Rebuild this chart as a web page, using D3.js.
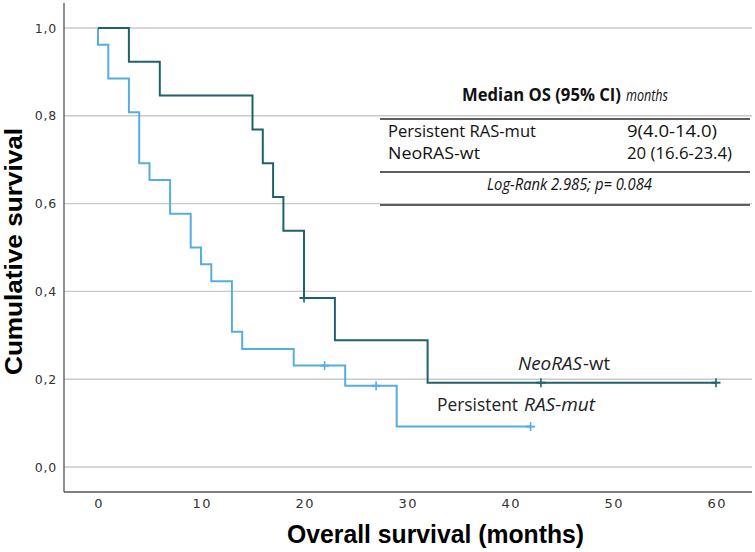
<!DOCTYPE html>
<html>
<head>
<meta charset="utf-8">
<script src="https://cdn.jsdelivr.net/npm/d3@7"></script>
<style>
  html, body { margin: 0; padding: 0; background: #fff; }
  svg { display: block; }
</style>
</head>
<body>
<svg id="chart" width="755" height="552"></svg>
<script>
// ---- Data ----
const neoTimes  = [0, 3, 6, 15, 16, 17, 18, 20, 23, 32, 60];
const neoSurv   = [1.0, 0.923, 0.846, 0.769, 0.692, 0.615, 0.538, 0.385, 0.289, 0.192, 0.192];
const neoCensorTimes = [20, 43, 60];
const neoCensorSurv  = [0.385, 0.192, 0.192];

const persTimes = [0, 0, 1, 3, 4, 5, 7, 9, 10, 11, 13, 14, 19, 24, 29, 42];
const persSurv  = [1.0, 0.962, 0.885, 0.808, 0.692, 0.654, 0.577, 0.5, 0.462, 0.423, 0.308, 0.269, 0.231, 0.185, 0.092, 0.092];
const persCensorTimes = [22, 27, 42];
const persCensorSurv  = [0.231, 0.185, 0.092];

const xTicks = [0, 10, 20, 30, 40, 50, 60];
const yTicks = [0, 0.2, 0.4, 0.6, 0.8, 1.0];

const tableTitle = ["Median OS (95% CI)", "months"];
const tableGroups = ["Persistent RAS-mut", "NeoRAS-wt"];
const tableValues = ["9(4.0-14.0)", "20 (16.6-23.4)"];
const logRankText = "Log-Rank 2.985; p= 0.084";

const colNeo = "#1f6369";
const colPers = "#55ade0";

// ---- Scales ----
const svg = d3.select("#chart");
const x = d3.scaleLinear().domain([0, 60]).range([98, 716]);
const y = d3.scaleLinear().domain([0, 1]).range([467, 28]);
const plotLeft = 64, plotRight = 752, plotBottom = 492, plotTop = 3;

// gridlines
svg.append("g").selectAll("line").data(yTicks).join("line")
  .attr("x1", plotLeft).attr("x2", plotRight)
  .attr("y1", d => y(d)).attr("y2", d => y(d))
  .attr("stroke", "#c9c9c9").attr("stroke-width", 1.4);

// axes lines
svg.append("line").attr("x1", plotLeft).attr("x2", plotLeft).attr("y1", plotTop).attr("y2", plotBottom)
  .attr("stroke", "#555").attr("stroke-width", 1.3);
svg.append("line").attr("x1", plotLeft).attr("x2", plotRight).attr("y1", plotBottom).attr("y2", plotBottom)
  .attr("stroke", "#555").attr("stroke-width", 1.3);

// y tick labels
const fmt = d => d3.format(".1f")(d).replace(".", ",");
const yAxis = d3.axisLeft(y).tickValues(yTicks).tickFormat(fmt).tickSize(0).tickPadding(0);
const gy = svg.append("g").attr("transform", `translate(57,0)`).call(yAxis);
gy.select(".domain").remove();
gy.selectAll("text").attr("font-family", "DejaVu Sans").attr("font-size", 12.5)
  .attr("fill", "#333").attr("letter-spacing", 0.8);

// x tick labels
const xAxis = d3.axisBottom(x).tickValues(xTicks).tickFormat(d3.format("d")).tickSize(0).tickPadding(0);
const gx = svg.append("g").attr("transform", `translate(0,${plotBottom + 7})`).call(xAxis);
gx.select(".domain").remove();
gx.selectAll("text").attr("font-family", "DejaVu Sans").attr("font-size", 13)
  .attr("fill", "#333").attr("letter-spacing", 1.5).attr("dx", 0.75);

// curves
const line = d3.line().x(d => x(d[0])).y(d => y(d[1])).curve(d3.curveStepAfter);
const persPts = persTimes.map((t, i) => [t, persSurv[i]]);
const neoPts = neoTimes.map((t, i) => [t, neoSurv[i]]);

svg.append("path").attr("d", line(persPts)).attr("fill", "none")
  .attr("stroke", colPers).attr("stroke-width", 2);
svg.append("path").attr("d", line(neoPts)).attr("fill", "none")
  .attr("stroke", colNeo).attr("stroke-width", 2);

function censor(times, surv, col) {
  const g = svg.append("g");
  const pts = times.map((t, i) => [t, surv[i]]);
  g.selectAll(".v").data(pts).join("line")
    .attr("x1", d => x(d[0])).attr("x2", d => x(d[0]))
    .attr("y1", d => y(d[1]) - 4.5).attr("y2", d => y(d[1]) + 4.5)
    .attr("stroke", col).attr("stroke-width", 1.6);
  g.selectAll(".h").data(pts).join("line")
    .attr("x1", d => x(d[0]) - 4.5).attr("x2", d => x(d[0]) + 4.5)
    .attr("y1", d => y(d[1])).attr("y2", d => y(d[1]))
    .attr("stroke", col).attr("stroke-width", 2);
}
censor(persCensorTimes, persCensorSurv, colPers);
censor(neoCensorTimes, neoCensorSurv, colNeo);

// helper for fitted text pieces
const lblFont = "Open Sans";
function piece(parent, str, xx, yy, w, fs, opts = {}) {
  const t = parent.append("text").attr("x", xx).attr("y", yy)
    .attr("font-family", lblFont).attr("font-size", fs).attr("fill", opts.fill || "#111")
    .attr("textLength", w).attr("lengthAdjust", "spacingAndGlyphs").text(str);
  if (opts.italic) t.attr("font-style", "italic");
  if (opts.bold) t.attr("font-weight", "bold");
  return t;
}

// curve labels
piece(svg, "NeoRAS", 518, 370, 64, 19, { italic: true, fill: "#222" });
piece(svg, "-wt", 583, 370, 27, 19, { fill: "#222" });
piece(svg, "Persistent", 437, 411, 81, 19, { fill: "#222" });
piece(svg, "RAS-mut", 524, 411, 71, 19, { italic: true, fill: "#222" });

// table
const tbl = svg.append("g");
[119, 172, 205].forEach(yy => {
  tbl.append("line").attr("x1", 380).attr("x2", 750).attr("y1", yy).attr("y2", yy)
    .attr("stroke", "#2a2a2a").attr("stroke-width", 1.5);
});
const tblFs = 17;
piece(tbl, tableTitle[0], 462, 101, 159, tblFs, { bold: true });
piece(tbl, tableTitle[1], 626, 101, 42, tblFs, { italic: true });

const rowY = [137, 159];
const grpW = [148, 92];
const valW = [90, 105];
tableGroups.forEach((g, i) => {
  piece(tbl, g, 388, rowY[i], grpW[i], tblFs);
  piece(tbl, tableValues[i], 627, rowY[i], valW[i], tblFs);
});
piece(tbl, logRankText, 487, 190, 165, tblFs, { italic: true });

// axis titles
svg.append("text").attr("x", 287).attr("y", 543)
  .attr("font-family", "Liberation Sans, Arial, sans-serif").attr("font-weight", "bold")
  .attr("font-size", 25).attr("fill", "#000")
  .attr("textLength", 297).attr("lengthAdjust", "spacingAndGlyphs")
  .text("Overall survival (months)");

svg.append("text").attr("transform", "translate(22,375) rotate(-90)")
  .attr("font-family", "Liberation Sans, Arial, sans-serif").attr("font-weight", "bold")
  .attr("font-size", 24.5).attr("fill", "#000")
  .attr("textLength", 247).attr("lengthAdjust", "spacingAndGlyphs")
  .text("Cumulative survival");
</script>
</body>
</html>
